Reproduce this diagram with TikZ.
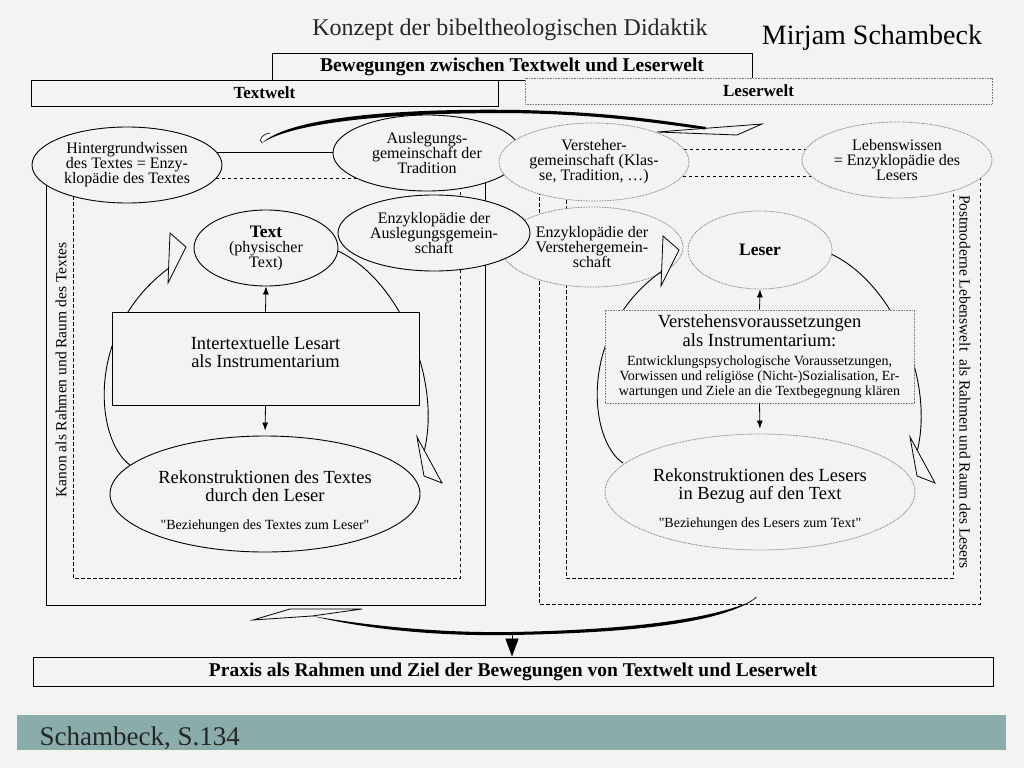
\documentclass[tikz,border=0pt]{standalone}
\usepackage{fontspec}
\setmainfont{Liberation Serif}[Ligatures=TeXOff]
\usetikzlibrary{shapes.geometric,arrows.meta}
\definecolor{bg}{RGB}{243,243,241}
\definecolor{bar}{RGB}{138,172,170}
\definecolor{dotc}{RGB}{125,125,125}
\newcommand\smallf{\fontsize{14}{15}\selectfont}
\begin{document}
\begin{tikzpicture}[x=1pt,y=-1pt,
  solidell/.style={ellipse, draw=black, line width=0.9pt, fill=bg, inner sep=0pt, align=center, font=\fontsize{16}{15}\selectfont},
  dotell/.style={ellipse, draw=dotc, dash pattern=on 0.8pt off 0.8pt, line width=0.8pt, fill=bg, inner sep=0pt, align=center, font=\fontsize{16}{15}\selectfont},
  hbox/.style={draw=black, line width=0.9pt, fill=bg, inner sep=0pt, align=center},
  dbox/.style={draw=dotc, dash pattern=on 0.8pt off 0.8pt, line width=0.8pt, fill=bg, inner sep=0pt, align=center},
  frame/.style={draw=black, line width=1pt},
  dframe/.style={draw=black, line width=0.9pt, dash pattern=on 3.5pt off 2.5pt},
  smallarr/.style={-{Latex[length=8pt,width=6pt]}, line width=0.8pt},
  loopline/.style={line width=0.9pt},
  openhead/.style={draw=black, line width=0.8pt, fill=bg, line join=miter},
]
\useasboundingbox (0,0) rectangle (1024,768);
\fill[bg] (0,0) rectangle (1024,768);
\fill[bar] (17,715) rectangle (1006,750);
\node[anchor=west, font=\fontsize{27}{27}\selectfont, text=black!85] (src) at (36,738) {Schambeck, S.134};

% titles
\node[font=\fontsize{24}{24}\selectfont, text=black!85] (title) at (510,30) {Konzept der bibeltheologischen Didaktik};
\node[font=\fontsize{28}{28}\selectfont] (author) at (872,38) {Mirjam Schambeck};

% header boxes
\node[hbox, minimum width=480pt, minimum height=27pt, font=\bfseries\fontsize{19.5}{19.5}\selectfont] (bew) at (512,66.5) {Bewegungen zwischen Textwelt und Leserwelt};
\node[hbox, minimum width=467pt, minimum height=26pt, font=\bfseries\fontsize{17}{17}\selectfont] (textwelt) at (264.5,93) {Textwelt};
\node[dbox, minimum width=467pt, minimum height=26pt, font=\bfseries\fontsize{17}{17}\selectfont] (leserwelt) at (758.5,91) {Leserwelt};

% frames
\draw[frame] (46,152) rectangle (485,605);
\draw[dframe] (73,178) rectangle (460,578);
\draw[dframe] (539,149) rectangle (980,604);
\draw[dframe] (566,176) rectangle (953,578);

% loop end points
\coordinate (hl1) at (169,268);
\coordinate (hr1) at (424,452);
\coordinate (hl2) at (662,271);
\coordinate (hr2) at (917,452);

% left ellipses
\node[solidell, minimum width=190pt, minimum height=76pt] (hint) at (127,165) {Hintergrundwissen\\des Textes = Enzy-\\klopädie des Textes};
\node[solidell, minimum width=188pt, minimum height=76pt] (ausl) at (427,153) {Auslegungs-\\gemeinschaft der\\Tradition};
% right ellipses
\node[dotell, minimum width=190pt, minimum height=78pt] (verst) at (594,162) {Versteher-\\gemeinschaft (Klas-\\se, Tradition, …)};
\node[dotell, minimum width=190pt, minimum height=76pt] (leben) at (897,160) {Lebenswissen\\= Enzyklopädie des\\Lesers};
\node[dotell, minimum width=182pt, minimum height=80pt] (enzv) at (592,247) {Enzyklopädie der\\Verstehergemein-\\schaft};
\node[solidell, minimum width=192pt, minimum height=76pt] (enza) at (434,233) {Enzyklopädie der\\Auslegungsgemein-\\schaft};

% loop curves
\draw[loopline] (265,494) ++(-135,-29) .. controls (95,440) and (85,330) .. (hl1);
\draw[loopline] (338,251) .. controls (400,280) and (442,380) .. (hr1);
\draw[loopline] (758,492) ++(-135,-29) .. controls (588,440) and (578,330) .. (hl2);
\draw[loopline] (831,254) .. controls (893,283) and (935,380) .. (hr2);

\node[solidell, minimum width=144pt, minimum height=76pt] (text) at (266,248) {{\bfseries\fontsize{17.5}{18}\selectfont Text}\\(physischer\\Text)};
\node[dotell, minimum width=144pt, minimum height=78pt, font=\bfseries\fontsize{17.5}{17.5}\selectfont] (leser) at (760,250) {Leser};

% instrument boxes
\node[hbox, minimum width=307pt, minimum height=93pt, font=\fontsize{18.5}{18}\selectfont] (inter) at (265.5,358.5) {Intertextuelle Lesart\\als Instrumentarium\rule[-12pt]{0pt}{1pt}};
\node[dbox, minimum width=309pt, minimum height=93pt, font=\fontsize{18.5}{19}\selectfont] (vers) at (759.5,356.5) {Verstehensvoraussetzungen\\als Instrumentarium:\\\smallf Entwicklungspsychologische Voraussetzungen,\\[-4pt]\smallf Vorwissen und religiöse (Nicht-)Sozialisation, Er-\\[-4pt]\smallf wartungen und Ziele an die Textbegegnung klären};

% reconstruction ellipses
\node[solidell, minimum width=310pt, minimum height=116pt, font=\fontsize{18.5}{18.5}\selectfont] (rek1) at (265,494) {\rule{0pt}{28pt}Rekonstruktionen des Textes\\durch den Leser\\[9pt]\fontsize{14}{15}\selectfont "Beziehungen des Textes zum Leser"};
\node[dotell, minimum width=310pt, minimum height=116pt, font=\fontsize{18.5}{18.5}\selectfont] (rek2) at (760,492) {\rule{0pt}{28pt}Rekonstruktionen des Lesers\\in Bezug auf den Text\\[9pt]\fontsize{14}{15}\selectfont "Beziehungen des Lesers zum Text"};

% small arrows
\draw[smallarr] (inter.north) -- (text.south);
\draw[smallarr, shorten >=5pt] (inter.south) -- (rek1.north);
\draw[smallarr] (vers.north) -- (leser.south);
\draw[smallarr, shorten >=5pt] (vers.south) -- (rek2.north);

% open arrowheads of loops
\draw[openhead] (170,233) -- (186,247) -- (168,283) -- cycle;
\draw[openhead] (417,437) -- (442,483) -- (424,476) -- cycle;
\draw[openhead] (663,236) -- (679,250) -- (661,286) -- cycle;
\draw[openhead] (910,437) -- (935,483) -- (917,476) -- cycle;

% big top arc
\draw[openhead] (657,132) -- (762,124) -- (737,135) -- cycle;
\fill (262,143) .. controls (290,117) and (400,108) .. (520,110) .. controls (610,112) and (665,121) .. (706,127) -- (705,129.5) .. controls (662,124) and (608,115) .. (520,113.2) .. controls (402,112) and (295,121) .. (262,143) -- cycle;
\draw[line width=0.6pt] (262,143) .. controls (258,140) and (262,134) .. (270,133);

% big bottom arc
\draw[openhead] (253,620) -- (290,609) -- (362,609) -- (312,616) -- cycle;
\fill (312,616) .. controls (380,632) and (450,636) .. (512,635) .. controls (620,633) and (712,625) .. (752,601) -- (752,601) .. controls (706,621) and (618,630) .. (512,632) .. controls (452,633) and (382,628) .. (312,616) -- cycle;
\draw[line width=0.6pt] (748,603) .. controls (754,599) and (758,597) .. (755,597.5);

% praxis
\node[hbox, minimum width=960pt, minimum height=29pt, font=\bfseries\fontsize{19.5}{19.5}\selectfont] (praxis) at (513,671.5) {Praxis als Rahmen und Ziel der Bewegungen von Textwelt und Leserwelt};
\coordinate (arcbot) at (512,634);
\draw[-{Triangle[length=18pt,width=13pt]}, line width=0.8pt] (arcbot) -- (praxis.north -| arcbot);

% vertical labels
\node[rotate=90, font=\fontsize{15.5}{15.5}\selectfont] (kanon) at (61,370) {Kanon als Rahmen und Raum des Textes};
\node[rotate=-90, font=\fontsize{15.5}{15.5}\selectfont] (postm) at (965,382) {Postmoderne Lebenswelt\ \ als Rahmen und Raum des Lesers};
\end{tikzpicture}
\end{document}
